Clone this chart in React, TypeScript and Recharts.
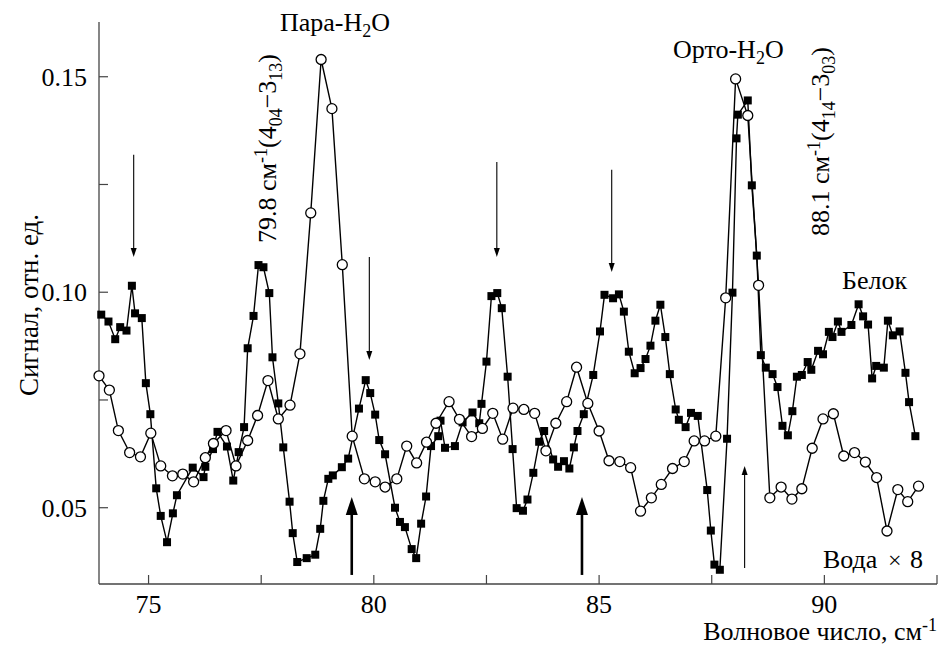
import React from "react";
import { LineChart, Line, XAxis, YAxis, ReferenceLine } from "recharts";

// Вода ×8 (open circles)
const waterX = [
  73.9, 74.13, 74.33, 74.58, 74.82, 75.05, 75.27, 75.53, 75.76, 76.0, 76.26, 76.44, 76.72, 76.94, 77.2,
  77.42, 77.65, 77.88, 78.14, 78.36, 78.6, 78.83, 79.07, 79.3, 79.52, 79.79, 80.03, 80.25, 80.51, 80.73,
  80.95, 81.17, 81.38, 81.67, 81.9, 82.17, 82.41, 82.64, 82.86, 83.09, 83.33, 83.57, 83.82, 84.04, 84.28,
  84.5, 84.75, 85.0, 85.22, 85.46, 85.7, 85.92, 86.16, 86.38, 86.63, 86.89, 87.11, 87.34, 87.59, 87.81,
  88.03, 88.3, 88.54, 88.79, 89.04, 89.28, 89.5, 89.73, 89.97, 90.2, 90.43, 90.67, 90.91, 91.16, 91.39,
  91.63, 91.85, 92.09,
];
const waterY = [
  0.0806, 0.0773, 0.0679, 0.0628, 0.0618, 0.0673, 0.0597, 0.0574, 0.0578, 0.056, 0.0616, 0.0649, 0.0679,
  0.0597, 0.0656, 0.0714, 0.0795, 0.0706, 0.0738, 0.0857, 0.1184, 0.154, 0.1426, 0.1064, 0.0666, 0.0567,
  0.056, 0.0548, 0.0567, 0.0643, 0.0604, 0.0652, 0.0696, 0.0746, 0.0705, 0.0665, 0.0684, 0.0719, 0.0659,
  0.0731, 0.0728, 0.0719, 0.0632, 0.0696, 0.0746, 0.0826, 0.0742, 0.0678, 0.0609, 0.0607, 0.0593, 0.0492,
  0.0523, 0.0554, 0.0591, 0.0607, 0.0655, 0.0655, 0.0666, 0.0987, 0.1495, 0.141, 0.1016, 0.0523, 0.0548,
  0.052, 0.0544, 0.0638, 0.0706, 0.0718, 0.062, 0.0628, 0.0606, 0.057, 0.0446, 0.0542, 0.0514, 0.055,
];

// Белок (filled squares)
const proteinX = [
  73.95, 74.11, 74.26, 74.37, 74.51, 74.63, 74.7, 74.85, 74.94, 75.04, 75.17, 75.27, 75.41, 75.54, 75.63,
  75.98, 76.22, 76.26, 76.43, 76.53, 76.74, 76.88, 77.0, 77.12, 77.2, 77.33, 77.44, 77.55, 77.68, 77.75,
  77.88, 77.99, 78.13, 78.2, 78.3, 78.51, 78.7, 78.81, 78.88, 78.99, 79.09, 79.29, 79.43, 79.67, 79.82,
  79.92, 80.03, 80.12, 80.25, 80.47, 80.58, 80.69, 80.84, 80.94, 81.05, 81.16, 81.27, 81.43, 81.48, 81.58,
  81.8, 81.97, 82.19, 82.34, 82.39, 82.5, 82.61, 82.74, 82.84, 82.97, 83.08, 83.17, 83.31, 83.41, 83.54,
  83.67, 83.78, 83.98, 84.09, 84.22, 84.34, 84.44, 84.52, 84.66, 84.87, 85.02, 85.12, 85.31, 85.44, 85.55,
  85.66, 85.79, 85.92, 86.03, 86.14, 86.25, 86.36, 86.47, 86.57, 86.7, 86.77, 86.92, 87.04, 87.19, 87.4,
  87.48, 87.56, 87.68, 87.84, 87.96, 88.05, 88.08, 88.3, 88.39, 88.5, 88.59, 88.7, 88.85, 88.96, 89.07,
  89.19, 89.29, 89.39, 89.5, 89.63, 89.71, 89.86, 89.97, 90.1, 90.18, 90.3, 90.38, 90.6, 90.76, 90.86,
  90.97, 91.06, 91.15, 91.32, 91.41, 91.52, 91.67, 91.8, 91.88, 92.02,
];
const proteinY = [
  0.0948, 0.0932, 0.0891, 0.0919, 0.0911, 0.1015, 0.0951, 0.094, 0.0789, 0.0717, 0.0545, 0.0481, 0.042,
  0.0487, 0.0529, 0.0593, 0.0571, 0.0595, 0.0636, 0.0676, 0.0642, 0.0563, 0.0629, 0.0687, 0.087, 0.0945,
  0.1063, 0.1058, 0.0998, 0.0849, 0.0742, 0.064, 0.0514, 0.0441, 0.0374, 0.0383, 0.0391, 0.0451, 0.0516,
  0.0567, 0.0575, 0.0594, 0.0614, 0.073, 0.0796, 0.0766, 0.0716, 0.0657, 0.0624, 0.05, 0.0467, 0.0455,
  0.0404, 0.0383, 0.0463, 0.0526, 0.0643, 0.0666, 0.0702, 0.0639, 0.0643, 0.0698, 0.0721, 0.0696, 0.0741,
  0.0839, 0.0991, 0.0998, 0.0963, 0.0804, 0.0636, 0.0499, 0.0493, 0.0519, 0.0581, 0.0653, 0.0678, 0.0612,
  0.0595, 0.0608, 0.0591, 0.064, 0.0678, 0.0717, 0.0808, 0.0909, 0.0994, 0.0986, 0.0995, 0.0955, 0.0862,
  0.0812, 0.0824, 0.0845, 0.0876, 0.0934, 0.0971, 0.0896, 0.081, 0.0728, 0.0704, 0.0687, 0.072, 0.0713,
  0.0541, 0.0447, 0.0368, 0.0356, 0.066, 0.0999, 0.1357, 0.1412, 0.1445, 0.1248, 0.1085, 0.0854, 0.0825,
  0.081, 0.078, 0.069, 0.0668, 0.0724, 0.0804, 0.0808, 0.0838, 0.082, 0.0864, 0.0856, 0.0908, 0.0896,
  0.0932, 0.0908, 0.0924, 0.0972, 0.0944, 0.0925, 0.08, 0.0829, 0.0825, 0.0934, 0.09, 0.0909, 0.0813,
  0.0745, 0.0666,
];

const xTicks = [75, 77.5, 80, 82.5, 85, 87.5, 90, 92.5];
const yTicks = [0.05, 0.075, 0.1, 0.125, 0.15];

// arrows: x, start y, end y (head at end)
const thinArrows = [
  { x: 74.67, from: 0.1319, to: 0.1082 },
  { x: 79.9, from: 0.1082, to: 0.0843 },
  { x: 82.73, from: 0.1302, to: 0.1082 },
  { x: 85.28, from: 0.1284, to: 0.1047 },
  { x: 88.23, from: 0.036, to: 0.0597 },
];
const thickArrows = [
  { x: 79.51, from: 0.0344, to: 0.0525 },
  { x: 84.62, from: 0.0344, to: 0.0525 },
];

const water = waterX.map((x, i) => ({ x, y: waterY[i] }));
const protein = proteinX.map((x, i) => ({ x, y: proteinY[i] }));

const FONT = "'Liberation Serif', 'Times New Roman', serif";
const AXIS = "#444";
const txt = { fontFamily: FONT };

const XTick = (p: any) => {
  const v = p.payload.value;
  const major = v % 5 === 0;
  return (
    <g>
      <line x1={p.x} y1={p.y} x2={p.x} y2={p.y - 9} stroke={AXIS} strokeWidth={1.2} />
      {major && (
        <text x={p.x} y={p.y + 29} textAnchor="middle" style={txt} fontSize={26} fill="#000">
          {v}
        </text>
      )}
    </g>
  );
};

const YTick = (p: any) => {
  const v = p.payload.value;
  const major = Math.round(v * 1000) % 50 === 0;
  return (
    <g>
      <line x1={p.x} y1={p.y} x2={p.x + 9} y2={p.y} stroke={AXIS} strokeWidth={1.2} />
      {major && (
        <text x={p.x - 12} y={p.y + 9} textAnchor="end" style={txt} fontSize={26} fill="#000">
          {v.toFixed(2)}
        </text>
      )}
    </g>
  );
};

const Square = (p: any) => (
  <rect key={`sq-${p.index}`} x={p.cx - 4} y={p.cy - 4} width={8} height={8} fill="#000" />
);

const Arrow = (p: any) => {
  const { x1, y1, x2, y2, w, hl, hw } = p;
  if (x1 == null || y1 == null) return null;
  const dir = y2 > y1 ? 1 : -1;
  const base = y2 - dir * hl;
  return (
    <g>
      <line x1={x1} y1={y1} x2={x2} y2={base} stroke="#000" strokeWidth={w} />
      <polygon points={`${x2},${y2} ${x2 - hw},${base} ${x2 + hw},${base}`} fill="#000" />
    </g>
  );
};

export default function App() {
  return (
    <div style={{ position: "absolute", left: 0, top: 0, width: 943, height: 648, background: "#fff" }}>
      <LineChart width={943} height={648} margin={{ top: 22, right: 6, bottom: 0, left: 0 }}>
        <XAxis
          type="number"
          dataKey="x"
          domain={[73.9, 92.5]}
          ticks={xTicks}
          interval={0}
          tickSize={0}
          tickMargin={0}
          tickLine={false}
          tick={(p: any) => <XTick {...p} />}
          axisLine={{ stroke: AXIS, strokeWidth: 1.3 }}
          height={64}
        />
        <YAxis
          type="number"
          domain={[0.0323, 0.1627]}
          ticks={yTicks}
          interval={0}
          tickSize={0}
          tickMargin={0}
          tickLine={false}
          tick={(p: any) => <YTick {...p} />}
          axisLine={{ stroke: AXIS, strokeWidth: 1.3 }}
          width={99}
        />
        {thinArrows.map((a, i) => (
          <ReferenceLine
            key={`ta-${i}`}
            segment={[
              { x: a.x, y: a.from },
              { x: a.x, y: a.to },
            ]}
            shape={(p: any) => <Arrow {...p} w={1.1} hl={9} hw={3} />}
          />
        ))}
        {thickArrows.map((a, i) => (
          <ReferenceLine
            key={`ka-${i}`}
            segment={[
              { x: a.x, y: a.from },
              { x: a.x, y: a.to },
            ]}
            shape={(p: any) => <Arrow {...p} w={2.6} hl={18} hw={6} />}
          />
        ))}
        <Line
          data={protein}
          dataKey="y"
          type="linear"
          stroke="#000"
          strokeWidth={1.4}
          dot={Square}
          activeDot={false}
          isAnimationActive={false}
        />
        <Line
          data={water}
          dataKey="y"
          type="linear"
          stroke="#000"
          strokeWidth={1.4}
          dot={{ r: 5, fill: "#fff", stroke: "#000", strokeWidth: 1.3 }}
          activeDot={false}
          isAnimationActive={false}
        />
      </LineChart>
      <svg
        width={943}
        height={648}
        style={{ position: "absolute", left: 0, top: 0, pointerEvents: "none", fontFamily: FONT }}
        fill="#000"
      >
        <text x={280} y={31} fontSize={26}>
          Пара-H<tspan fontSize={18} dy={6}>2</tspan>
          <tspan dy={-6}>O</tspan>
        </text>
        <text x={673} y={58} fontSize={26}>
          Орто-H<tspan fontSize={18} dy={6}>2</tspan>
          <tspan dy={-6}>O</tspan>
        </text>
        <text transform="translate(276,243) rotate(-90)" fontSize={26}>
          79.8 см<tspan fontSize={18} dy={-9}>-1</tspan>
          <tspan dy={9}>(4</tspan>
          <tspan fontSize={18} dy={6}>04</tspan>
          <tspan dy={-6}>−3</tspan>
          <tspan fontSize={18} dy={6}>13</tspan>
          <tspan dy={-6}>)</tspan>
        </text>
        <text transform="translate(829,236) rotate(-90)" fontSize={26}>
          88.1 см<tspan fontSize={18} dy={-9}>-1</tspan>
          <tspan dy={9}>(4</tspan>
          <tspan fontSize={18} dy={6}>14</tspan>
          <tspan dy={-6}>−3</tspan>
          <tspan fontSize={18} dy={6}>03</tspan>
          <tspan dy={-6}>)</tspan>
        </text>
        <text x={842} y={289} fontSize={26}>
          Белок
        </text>
        <text x={823} y={568} fontSize={26}>
          Вода
        </text>
        <text x={888} y={568} fontSize={24}>
          ×
        </text>
        <text x={910} y={568} fontSize={26}>
          8
        </text>
        <text transform="translate(38,305) rotate(-90)" fontSize={27} textAnchor="middle">
          Сигнал, отн. ед.
        </text>
        <text x={937} y={640} fontSize={26} textAnchor="end">
          Волновое число, см<tspan fontSize={18} dy={-9}>-1</tspan>
        </text>
      </svg>
    </div>
  );
}
